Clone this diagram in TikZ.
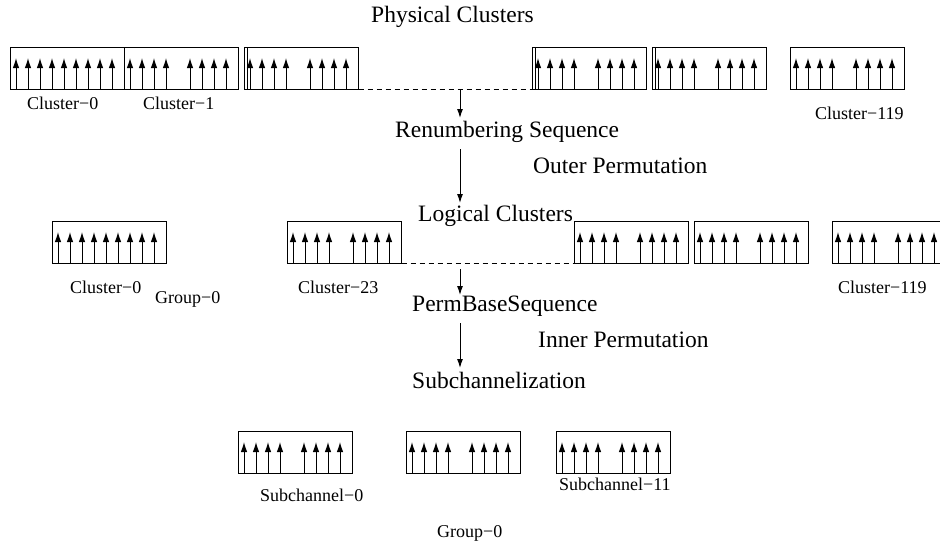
\documentclass[tikz,border=0pt]{standalone}
\usepackage{fontspec}
\setmainfont{Liberation Serif}
\usetikzlibrary{arrows.meta}
\tikzset{
  boxs/.style={draw, line width=0.8pt, minimum width=114.5pt, minimum height=42pt,
               inner sep=0pt, outer sep=0pt, anchor=north west},
  tine/.style={line width=1pt, -{Latex[length=10pt,width=6.5pt]}},
  flow/.style={line width=1pt, -{Latex[length=9pt,width=6pt]}},
  dashline/.style={line width=0.8pt, dash pattern=on 5pt off 4pt},
  big/.style={font=\fontsize{23.5}{28}\selectfont, anchor=base west, inner sep=0pt},
  small/.style={font=\fontsize{18}{22}\selectfont, anchor=base west, inner sep=0pt}
}
\newcommand\drawclust[4]{%
  \node[boxs] (#1) at (#2,#3) {};
  \foreach \k in {#4} \draw[tine] ([xshift={(6+12*\k)*1pt}]#1.south west) -- ++(0,-31);
}
\newcommand\innerline[1]{%
  \draw[line width=0.8pt] ([xshift=3pt]#1.south west) -- ([xshift=3pt]#1.north west);
}
\begin{document}
\begin{tikzpicture}[x=1pt,y=-1pt]
\useasboundingbox (0,0) rectangle (940,546);

% Physical row
\drawclust{p0}{10}{47}{0,1,2,3,4,5,6,7,8}
\drawclust{p1}{124}{47}{0,1,2,3,5,6,7,8}
\drawclust{p2}{244}{47}{0,1,2,3,5,6,7,8}
\drawclust{p3}{532}{47}{0,1,2,3,5,6,7,8}
\drawclust{p4}{652}{47}{0,1,2,3,5,6,7,8}
\drawclust{p5}{790}{47}{0,1,2,3,5,6,7,8}
\innerline{p2}
\innerline{p3}
\innerline{p4}
\draw[dashline] (p2.south east) -- (p3.south west);

% Logical row
\drawclust{l0}{52}{221}{0,1,2,3,4,5,6,7,8}
\drawclust{l23}{287}{221}{0,1,2,3,5,6,7,8}
\drawclust{la}{574}{221}{0,1,2,3,5,6,7,8}
\drawclust{lb}{694}{221}{0,1,2,3,5,6,7,8}
\drawclust{l119}{832}{221}{0,1,2,3,5,6,7,8}
\draw[dashline] (l23.south east) -- (la.south west);

% Subchannel row
\drawclust{s0}{238}{431}{0,1,2,3,5,6,7,8}
\drawclust{s1}{406}{431}{0,1,2,3,5,6,7,8}
\drawclust{s11}{556}{431}{0,1,2,3,5,6,7,8}

% Texts
\node[big] (tphys) at (371,23) {Physical Clusters};
\node[small] (tpc0) at (27,109) {Cluster−0};
\node[small] (tpc1) at (143,109) {Cluster−1};
\node[small] (tpc119) at (815,119) {Cluster−119};
\node[big] (tren) at (395,137) {Renumbering Sequence};
\node[big] (touter) at (533,173) {Outer Permutation};
\node[big] (tlog) at (418,221) {Logical Clusters};
\node[small] (tlc0) at (70,293) {Cluster−0};
\node[small] (tg0a) at (155,303) {Group−0};
\node[small] (tlc23) at (298,293) {Cluster−23};
\node[small] (tlc119) at (838,293) {Cluster−119};
\node[big] (tperm) at (412,311) {PermBaseSequence};
\node[big] (tinner) at (538,347) {Inner Permutation};
\node[big] (tsub) at (412,388) {Subchannelization};
\node[small] (ts0) at (260,501) {Subchannel−0};
\node[small] (ts11) at (559,490) {Subchannel−11};
\node[small] (tg0b) at (437,537) {Group−0};

% Flow arrows
\coordinate (a1s) at (460,89);
\coordinate (a1e) at (460,118);
\coordinate (a2s) at (460,149);
\coordinate (a2e) at (460,203);
\coordinate (a3s) at (460,269);
\coordinate (a3e) at (460,295);
\coordinate (a4s) at (460,323);
\coordinate (a4e) at (460,368);
\draw[flow] (a1s) -- (a1e);
\draw[flow] (a2s) -- (a2e);
\draw[flow] (a3s) -- (a3e);
\draw[flow] (a4s) -- (a4e);
\end{tikzpicture}
\end{document}
